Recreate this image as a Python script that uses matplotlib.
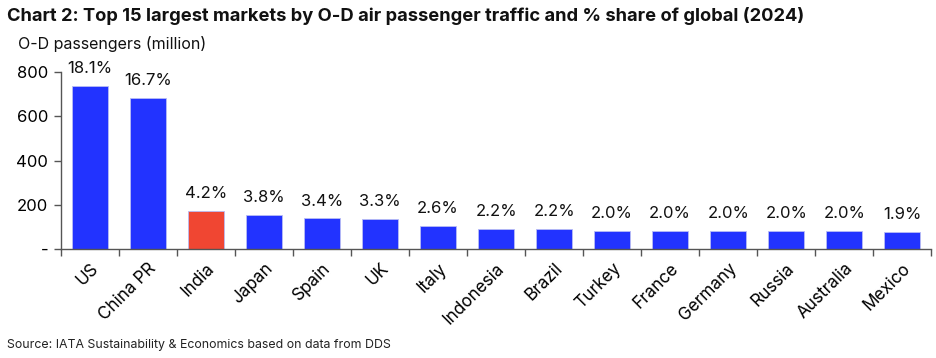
import matplotlib
matplotlib.use("Agg")
import matplotlib.pyplot as plt
import numpy as np

countries = ["US", "China PR", "India", "Japan", "Spain", "UK", "Italy", "Indonesia",
             "Brazil", "Turkey", "France", "Germany", "Russia", "Australia", "Mexico"]
passengers = [737, 684, 172, 155, 138, 134, 106, 90, 89, 83, 82, 82, 81, 80, 78]
shares = ["18.1%", "16.7%", "4.2%", "3.8%", "3.4%", "3.3%", "2.6%", "2.2%",
          "2.2%", "2.0%", "2.0%", "2.0%", "2.0%", "2.0%", "1.9%"]
highlight = "India"

plt.rcParams['font.family'] = ['Inter', 'DejaVu Sans']

fig = plt.figure(figsize=(9.36, 3.58), dpi=100)
ax = fig.add_axes([0.065, 0.3045, 0.93, 0.494])

x = np.arange(len(countries))
colors = ["#F04632" if c == highlight else "#2233FF" for c in countries]
ax.bar(x, passengers, width=0.62, color=colors, edgecolor="#B8BCF5", linewidth=0.6)

for xi, v, s in zip(x, passengers, shares):
    ax.text(xi, v + 45, s, ha="center", va="bottom", fontsize=12, color="#111111")

ax.set_xlim(-0.5, len(countries) - 0.5)
ax.set_ylim(0, 800)
ax.set_yticks([0, 200, 400, 600, 800])
ax.set_yticklabels(["-", "200", "400", "600", "800"], fontsize=12)
ax.set_xticks(x)
ax.set_xticklabels(countries, rotation=45, ha="right", rotation_mode="anchor", fontsize=12.3)
ax.tick_params(axis="x", length=0, pad=8)
ax.set_xticks(np.arange(-0.5, len(countries)), minor=True)
ax.tick_params(axis="x", which="minor", length=5, color="#555555", width=1)
ax.tick_params(axis="y", length=5, color="#555555", width=1, pad=4)

for sp in ["top", "right"]:
    ax.spines[sp].set_visible(False)
for sp in ["left", "bottom"]:
    ax.spines[sp].set_color("#555555")
    ax.spines[sp].set_linewidth(1)

fig.text(0.008, 0.955, "Chart 2: Top 15 largest markets by O-D air passenger traffic and % share of global (2024)",
         fontsize=13.2, fontweight="bold", ha="left", va="center", color="#111111")
fig.text(0.019, 0.877, "O-D passengers (million)", fontsize=11.5, ha="left", va="center", color="#111111")
fig.text(0.008, 0.035, "Source: IATA Sustainability & Economics based on data from DDS",
         fontsize=8.9, ha="left", va="center", color="#222222")

fig.savefig("out.png", dpi=100)
